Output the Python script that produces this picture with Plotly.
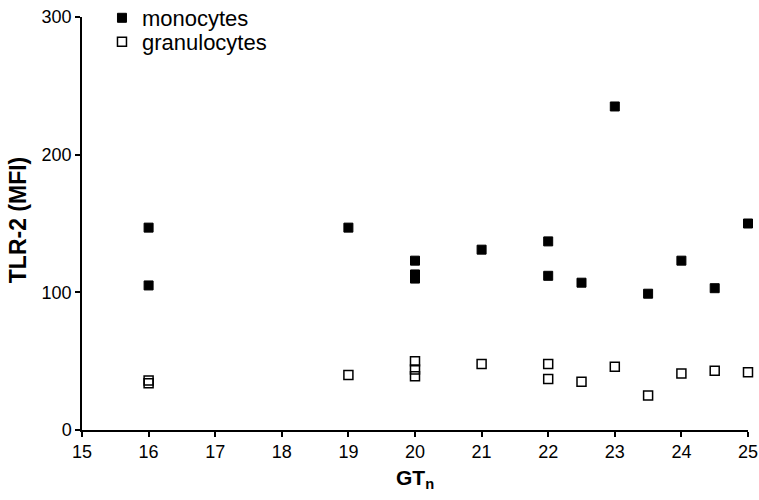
import plotly.graph_objects as go

mono_x = [16, 16, 19, 20, 20, 20, 21, 22, 22, 22.5, 23, 23.5, 24, 24.5, 25]
mono_y = [147, 105, 147, 123, 113, 110, 131, 137, 112, 107, 235, 99, 123, 103, 150]

gran_x = [16, 16, 19, 20, 20, 20, 21, 22, 22, 22.5, 23, 23.5, 24, 24.5, 25]
gran_y = [36, 34, 40, 50, 44, 39, 48, 48, 37, 35, 46, 25, 41, 43, 42]

x_ticks = list(range(15, 26))
y_ticks = [0, 100, 200, 300]

x_title = "<b>GT<sub>n</sub></b>"
y_title = "<b>TLR-2 (MFI)</b>"

FONT = "Liberation Sans, Arial, sans-serif"

fig = go.Figure()
fig.add_trace(go.Scatter(
    x=mono_x, y=mono_y, mode="markers", name="monocytes", legend="legend",
    marker=dict(symbol="square", size=9, color="black", line=dict(color="black", width=1)),
    cliponaxis=False,
))
fig.add_trace(go.Scatter(
    x=gran_x, y=gran_y, mode="markers", name="granulocytes", legend="legend2",
    marker=dict(symbol="square-open", size=9, color="black", line=dict(color="black", width=1.5)),
    cliponaxis=False,
))

axis_common = dict(
    showgrid=False, zeroline=False, showline=True, linecolor="black", linewidth=1.5,
    ticks="outside", ticklen=5, tickwidth=1.5, tickcolor="black",
    tickfont=dict(family=FONT, size=18, color="black"),
    automargin=False,
)

legend_common = dict(xanchor="left", yanchor="middle",
                     font=dict(family=FONT, size=22, color="black"),
                     bgcolor="rgba(0,0,0,0)")

fig.update_layout(
    width=759, height=500,
    margin=dict(l=82, r=11, t=17, b=70, autoexpand=False),
    plot_bgcolor="white", paper_bgcolor="white",
    font=dict(family=FONT, color="black"),
    xaxis=dict(range=[15, 25], tickvals=x_ticks, **axis_common),
    yaxis=dict(range=[0, 300], tickvals=y_ticks, **axis_common),
    legend=dict(x=0.03, y=0.9976, **legend_common),
    legend2=dict(x=0.03, y=0.9395, **legend_common),
    showlegend=True,
    annotations=[
        dict(text=x_title, xref="paper", yref="paper", x=0.5, y=-0.118,
             xanchor="center", yanchor="middle", showarrow=False,
             font=dict(family=FONT, size=21, color="black")),
        dict(text=y_title, xref="paper", yref="paper", x=-0.0961, y=0.508,
             xanchor="center", yanchor="middle", showarrow=False, textangle=-90,
             font=dict(family=FONT, size=23, color="black")),
    ],
)

fig.write_html("out.html", config={"displayModeBar": False},
               post_script="document.body.style.margin='0';")
